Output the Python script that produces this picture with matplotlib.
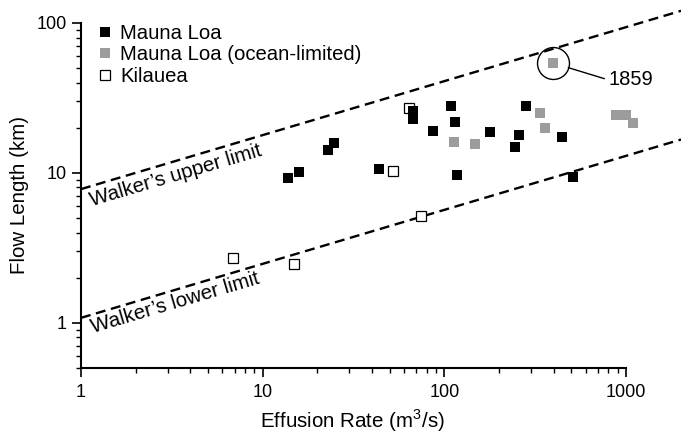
import numpy as np
import matplotlib
matplotlib.use("Agg")
import matplotlib.pyplot as plt
from matplotlib.ticker import FixedLocator, NullFormatter

plt.rcParams["font.family"] = ["Liberation Sans", "DejaVu Sans"]
plt.rcParams["mathtext.fontset"] = "custom"
plt.rcParams["mathtext.rm"] = "Liberation Sans"

# Mauna Loa (black)
ml_rate = [13.8, 15.8, 22.9, 24.7, 43.6, 67.2, 67.2, 86.5, 108.7, 114, 117,
           178, 258, 245, 281, 444, 510]
ml_length = [9.26, 10.2, 14.2, 15.8, 10.6, 25.9, 22.9, 19.05, 27.9, 21.9, 9.7,
             18.8, 17.9, 14.9, 28.0, 17.4, 9.4]

# Mauna Loa, ocean-limited (grey)
mlo_rate = [113, 147, 336, 358, 880, 1000, 1091, 396]
mlo_length = [16.1, 15.6, 25.1, 19.95, 24.3, 24.3, 21.5, 54.1]

# Kilauea (open)
kil_rate = [6.86, 14.9, 52.1, 63.8, 74.3]
kil_length = [2.71, 2.47, 10.3, 27.1, 5.17]

# Walker's limits, end points
limit_x = [1, 2005]
upper_limit = [7.8, 120.5]
lower_limit = [1.08, 16.7]

flow_1859 = (396, 54.1)

fig = plt.figure(figsize=(6.81, 4.36), dpi=100)
ax = fig.add_axes([81 / 681, 68 / 436, 600 / 681, 368 / 436])
ax.set_xscale("log")
ax.set_yscale("log")
ax.set_xlim(1, 2005)
ax.set_ylim(0.5, 142.3)

dash = (0, (4.2, 2.4))
ax.plot(limit_x, upper_limit, color="black", lw=1.7, linestyle=dash, zorder=2)
ax.plot(limit_x, lower_limit, color="black", lw=1.7, linestyle=dash, zorder=2)

ms = 7.2
ax.plot(kil_rate, kil_length, "s", ms=ms, mfc="white", mec="black", mew=0.9,
        linestyle="none", label="Kilauea", zorder=3)
ax.plot(ml_rate, ml_length, "s", ms=ms, mfc="black", mec="black", mew=0,
        linestyle="none", label="Mauna Loa", zorder=4)
ax.plot(mlo_rate, mlo_length, "s", ms=ms, mfc="#9c9c9c", mec="#9c9c9c", mew=0,
        linestyle="none", label="Mauna Loa (ocean-limited)", zorder=4)

# circle + label for 1859 flow
ax.plot([flow_1859[0]], [flow_1859[1]], "o", ms=23, mfc="none", mec="black",
        mew=1.0, zorder=5)
ax.annotate("1859", xy=flow_1859, xytext=(800, 41.7), textcoords="data",
            ha="left", va="center", fontsize=14.5,
            arrowprops=dict(arrowstyle="-", color="black", lw=1.0,
                            shrinkA=1, shrinkB=11.5, relpos=(0, 0.5)))

ax.text(1.15, 6.03, "Walker\u2019s upper limit", rotation=16.5,
        rotation_mode="anchor", ha="left", va="baseline", fontsize=14.8)
ax.text(1.16, 0.858, "Walker\u2019s lower limit", rotation=16.5,
        rotation_mode="anchor", ha="left", va="baseline", fontsize=14.8)

# legend
handles, labels = ax.get_legend_handles_labels()
order = [1, 2, 0]
ax.legend([handles[i] for i in order], [labels[i] for i in order],
          loc="upper left", bbox_to_anchor=(0.03, 0.935), frameon=False,
          fontsize=14.6, handlelength=0.6, handletextpad=0.45,
          borderaxespad=0, borderpad=0, labelspacing=0.12, markerscale=1)

# axes styling
for s in ["top", "right"]:
    ax.spines[s].set_visible(False)
ax.spines["left"].set_bounds(0.5, 100)
ax.spines["bottom"].set_bounds(1, 1000)
ax.spines["left"].set_linewidth(1.5)
ax.spines["bottom"].set_linewidth(1.5)

ax.xaxis.set_major_locator(FixedLocator([1, 10, 100, 1000]))
ax.xaxis.set_minor_locator(FixedLocator(
    [m * d for d in [1, 10, 100] for m in range(2, 10)]))
ax.yaxis.set_major_locator(FixedLocator([1, 10, 100]))
ax.yaxis.set_minor_locator(FixedLocator(
    [0.5, 0.6, 0.7, 0.8, 0.9] + [m * d for d in [1, 10] for m in range(2, 10)]))
ax.set_xticklabels(["1", "10", "100", "1000"])
ax.set_yticklabels(["1", "10", "100"])
ax.xaxis.set_minor_formatter(NullFormatter())
ax.yaxis.set_minor_formatter(NullFormatter())
ax.tick_params(which="major", length=6.5, width=1.2, labelsize=13, pad=4,
               direction="out")
ax.tick_params(which="minor", length=3.8, width=1.0, direction="out")
ax.tick_params(axis="x", which="major", pad=5)

fig.text(352 / 681, 1 - 421 / 436, "Effusion Rate (m$^3$/s)", ha="center",
         va="center", fontsize=14.8)
fig.text(20 / 681, 1 - 195 / 436, "Flow Length (km)", ha="center",
         va="center", rotation=90, fontsize=14.8)

fig.savefig("out.png", dpi=100)
